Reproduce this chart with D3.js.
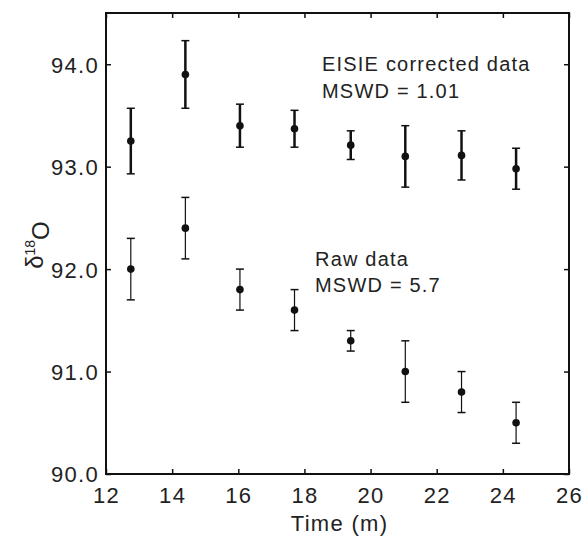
<!DOCTYPE html>
<html>
<head>
<meta charset="utf-8">
<script src="https://cdn.jsdelivr.net/npm/d3@7"></script>
<style>
  body { margin: 0; background: #fff; }
  svg text { font-family: "Liberation Sans", Arial, sans-serif; fill: #222; }
</style>
</head>
<body>
<div id="chart"></div>
<script>
// time of each measurement (m)
const times = [12.75, 14.4, 16.05, 17.7, 19.4, 21.05, 22.75, 24.4];
// EISIE corrected data and its error bars
const corrected = [93.25, 93.9, 93.4, 93.37, 93.21, 93.1, 93.11, 92.98];
const correctedErr = [0.32, 0.33, 0.21, 0.18, 0.14, 0.3, 0.24, 0.2];
// raw data and its error bars
const raw = [92.0, 92.4, 91.8, 91.6, 91.3, 91.0, 90.8, 90.5];
const rawErr = [0.3, 0.3, 0.2, 0.2, 0.1, 0.3, 0.2, 0.2];
// axis ticks
const xTicks = [12, 14, 16, 18, 20, 22, 24, 26];
const yTicks = [90, 91, 92, 93, 94];

const width = 586;
const height = 538;
const margin = { top: 13, right: 17, bottom: 64, left: 106 };

const svg = d3.select('#chart').append('svg')
    .attr('width', width)
    .attr('height', height);

const x = d3.scaleLinear()
    .domain([12, 26])
    .range([margin.left, width - margin.right]);

const y = d3.scaleLinear()
    .domain([90, 94.5])
    .range([height - margin.bottom, margin.top]);

// axes with inward ticks on all four sides
const bottomAxis = svg.append('g')
    .attr('transform', `translate(0,${height - margin.bottom})`)
    .call(d3.axisBottom(x).tickValues(xTicks).tickSize(-5).tickPadding(8));
const topAxis = svg.append('g')
    .attr('transform', `translate(0,${margin.top})`)
    .call(d3.axisTop(x).tickValues(xTicks).tickSize(-5).tickFormat(''));
const leftAxis = svg.append('g')
    .attr('transform', `translate(${margin.left},0)`)
    .call(d3.axisLeft(y).tickValues(yTicks).tickSize(-5).tickPadding(7).tickFormat(d3.format('.1f')));
const rightAxis = svg.append('g')
    .attr('transform', `translate(${width - margin.right},0)`)
    .call(d3.axisRight(y).tickValues(yTicks).tickSize(-5).tickFormat(''));

[bottomAxis, topAxis, leftAxis, rightAxis].forEach(g => {
    g.select('.domain').remove();
    g.selectAll('.tick line').attr('stroke', '#111').attr('stroke-width', 1.5);
    g.selectAll('.tick text')
        .style('font-size', '22px')
        .style('letter-spacing', '1.3px')
        .attr('fill', '#222');
});
leftAxis.selectAll('.tick text').attr('dy', '0.36em');
bottomAxis.selectAll('.tick text').attr('dy', '0.95em');

// frame
svg.append('rect')
    .attr('x', x(12))
    .attr('y', y(94.5))
    .attr('width', x(26) - x(12))
    .attr('height', y(90) - y(94.5))
    .attr('fill', 'none')
    .attr('stroke', '#111')
    .attr('stroke-width', 2);

// draw one series with error bars
function drawSeries(values, errs, lineWidth) {
    const data = values.map((v, i) => ({ t: times[i], v: v, e: errs[i] }));
    const g = svg.append('g');
    const cap = 4;
    g.selectAll('line.bar').data(data).enter().append('line')
        .attr('x1', d => x(d.t)).attr('x2', d => x(d.t))
        .attr('y1', d => y(d.v - d.e)).attr('y2', d => y(d.v + d.e))
        .attr('stroke', '#111').attr('stroke-width', lineWidth);
    g.selectAll('line.top').data(data).enter().append('line')
        .attr('x1', d => x(d.t) - cap).attr('x2', d => x(d.t) + cap)
        .attr('y1', d => y(d.v + d.e)).attr('y2', d => y(d.v + d.e))
        .attr('stroke', '#111').attr('stroke-width', 1.5);
    g.selectAll('line.bottom').data(data).enter().append('line')
        .attr('x1', d => x(d.t) - cap).attr('x2', d => x(d.t) + cap)
        .attr('y1', d => y(d.v - d.e)).attr('y2', d => y(d.v - d.e))
        .attr('stroke', '#111').attr('stroke-width', 1.5);
    g.selectAll('circle').data(data).enter().append('circle')
        .attr('cx', d => x(d.t))
        .attr('cy', d => y(d.v))
        .attr('r', 3.8)
        .attr('fill', '#111');
}

drawSeries(corrected, correctedErr, 2.5);
drawSeries(raw, rawErr, 1.2);

// annotations
const notes = [
    { text: 'EISIE corrected data', x: 322, y: 71 },
    { text: 'MSWD = 1.01', x: 322, y: 98 },
    { text: 'Raw data', x: 315, y: 266 },
    { text: 'MSWD = 5.7', x: 315, y: 292 }
];
svg.selectAll('text.note').data(notes).enter().append('text')
    .attr('class', 'note')
    .attr('x', d => d.x)
    .attr('y', d => d.y)
    .style('font-size', '20px')
    .style('letter-spacing', '1.2px')
    .text(d => d.text);

// x axis title
svg.append('text')
    .attr('x', (x(12) + x(26)) / 2 + 2)
    .attr('y', 531)
    .attr('text-anchor', 'middle')
    .style('font-size', '22px')
    .style('letter-spacing', '1.3px')
    .text('Time (m)');

// y axis title: delta 18 O
const yTitle = svg.append('text')
    .attr('transform', `translate(43,245) rotate(-90)`)
    .attr('text-anchor', 'middle')
    .style('font-size', '24px');
yTitle.append('tspan').text('δ');
yTitle.append('tspan').attr('dy', '-0.55em').style('font-size', '14px').text('18');
yTitle.append('tspan').attr('dy', '0.55em').text('O');
</script>
</body>
</html>
